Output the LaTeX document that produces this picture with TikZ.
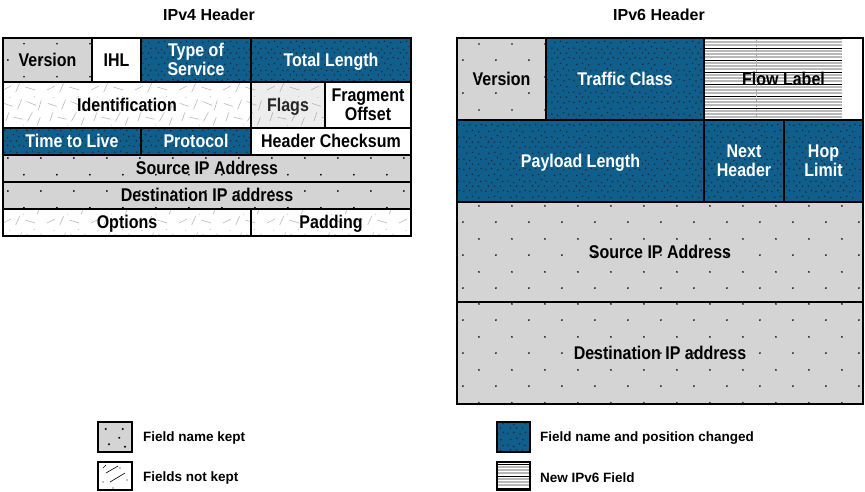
\documentclass[tikz,border=0pt]{standalone}
\usepackage{fontspec}
\setmainfont{Liberation Sans}
\usepackage{graphicx}
\usetikzlibrary{patterns}
\definecolor{ipblue}{RGB}{16,94,140}
\definecolor{ipgray}{RGB}{212,212,212}

\newcommand\lbl[1]{\raisebox{-2.3pt}[\height][\depth]{\scalebox{1}[1.15]{\begin{tabular}{@{}c@{}}#1\end{tabular}}}}

\pgfdeclarepatternformonly{keptdots}{\pgfqpoint{0pt}{0pt}}{\pgfqpoint{32.5pt}{32.5pt}}{\pgfqpoint{32.5pt}{32.5pt}}{%
  \pgfpathcircle{\pgfqpoint{8pt}{8pt}}{0.95pt}%
  \pgfpathcircle{\pgfqpoint{24.25pt}{24.25pt}}{0.95pt}%
  \pgfusepath{fill}}

\pgfdeclarepatternformonly{bluedots}{\pgfqpoint{0pt}{0pt}}{\pgfqpoint{22pt}{22pt}}{\pgfqpoint{22pt}{22pt}}{%
  \pgfpathcircle{\pgfqpoint{2pt}{3pt}}{0.85pt}%
  \pgfpathcircle{\pgfqpoint{8pt}{1.5pt}}{0.85pt}%
  \pgfpathcircle{\pgfqpoint{14pt}{4.5pt}}{0.85pt}%
  \pgfpathcircle{\pgfqpoint{19.5pt}{2.5pt}}{0.85pt}%
  \pgfpathcircle{\pgfqpoint{5pt}{9pt}}{0.85pt}%
  \pgfpathcircle{\pgfqpoint{11pt}{10pt}}{0.85pt}%
  \pgfpathcircle{\pgfqpoint{17.5pt}{8.5pt}}{0.85pt}%
  \pgfpathcircle{\pgfqpoint{2pt}{15pt}}{0.85pt}%
  \pgfpathcircle{\pgfqpoint{8pt}{16pt}}{0.85pt}%
  \pgfpathcircle{\pgfqpoint{14.5pt}{14.5pt}}{0.85pt}%
  \pgfpathcircle{\pgfqpoint{20pt}{16pt}}{0.85pt}%
  \pgfpathcircle{\pgfqpoint{11pt}{20.5pt}}{0.85pt}%
  \pgfpathcircle{\pgfqpoint{4.5pt}{20.8pt}}{0.85pt}%
  \pgfpathcircle{\pgfqpoint{17pt}{20.5pt}}{0.85pt}%
  \pgfusepath{fill}}

\pgfdeclarepatternformonly{strokes}{\pgfqpoint{0pt}{0pt}}{\pgfqpoint{44pt}{44pt}}{\pgfqpoint{44pt}{44pt}}{%
  \pgfsetlinewidth{0.6pt}%
  \pgfpathmoveto{\pgfqpoint{3pt}{5pt}}\pgfpathlineto{\pgfqpoint{11pt}{9pt}}%
  \pgfpathmoveto{\pgfqpoint{16pt}{3pt}}\pgfpathlineto{\pgfqpoint{20pt}{12pt}}%
  \pgfpathmoveto{\pgfqpoint{26pt}{8pt}}\pgfpathlineto{\pgfqpoint{36pt}{5pt}}%
  \pgfpathmoveto{\pgfqpoint{38pt}{14pt}}\pgfpathlineto{\pgfqpoint{41pt}{22pt}}%
  \pgfpathmoveto{\pgfqpoint{6pt}{18pt}}\pgfpathlineto{\pgfqpoint{9pt}{27pt}}%
  \pgfpathmoveto{\pgfqpoint{14pt}{22pt}}\pgfpathlineto{\pgfqpoint{23pt}{20pt}}%
  \pgfpathmoveto{\pgfqpoint{28pt}{18pt}}\pgfpathlineto{\pgfqpoint{33pt}{27pt}}%
  \pgfpathmoveto{\pgfqpoint{4pt}{36pt}}\pgfpathlineto{\pgfqpoint{13pt}{33pt}}%
  \pgfpathmoveto{\pgfqpoint{18pt}{30pt}}\pgfpathlineto{\pgfqpoint{22pt}{40pt}}%
  \pgfpathmoveto{\pgfqpoint{27pt}{38pt}}\pgfpathlineto{\pgfqpoint{37pt}{34pt}}%
  \pgfpathmoveto{\pgfqpoint{39pt}{29pt}}\pgfpathlineto{\pgfqpoint{42pt}{39pt}}%
  \pgfusepath{stroke}%
  \pgfpathcircle{\pgfqpoint{24pt}{14pt}}{0.5pt}%
  \pgfpathcircle{\pgfqpoint{10pt}{42pt}}{0.5pt}%
  \pgfpathcircle{\pgfqpoint{35pt}{43pt}}{0.5pt}%
  \pgfusepath{fill}}

\newcommand\cell[7]{%
  \node[#6, minimum width={(#4)-(#2)}, minimum height={(#5)-(#3)}] (#1)
    at ({((#2)+(#4))/2},{((#3)+(#5))/2}) {#7};}

\tikzset{
  cellbase/.style={rectangle, draw=black, line width=1.8pt, inner sep=0pt, outer sep=0pt,
    font=\fontsize{16}{17}\selectfont\bfseries},
  keptc/.style={cellbase, preaction={fill=ipgray}, pattern=keptdots, pattern color=black},
  bluec/.style={cellbase, preaction={fill=ipblue}, pattern=bluedots, pattern color=black!85, text=white},
  notkeptc/.style={cellbase, preaction={fill=white}, pattern=strokes, pattern color=gray!55},
  flagsc/.style={cellbase, preaction={fill=gray!14}, pattern=strokes, pattern color=gray!60, text=black!85},
  plainc/.style={cellbase, fill=white},
  hlines/.style={path picture={
      \foreach \k in {-16,...,16} {
        \pgfmathtruncatemacro\m{mod(\k+64,4)}
        \ifnum\m=0
          \draw[black, line width=0.8pt] (-100,{3*\k}) -- (100,{3*\k});
        \else
          \draw[gray!55, line width=1.2pt] (-100,{3*\k}) -- (100,{3*\k});
        \fi
      }
    }},
  flowc/.style={cellbase, fill=white, hlines, postaction={path picture={
      \draw[gray!70, line width=0.4pt, dash pattern=on 3pt off 2pt] (14.5,-45) -- (14.5,45);}}},
  titlec/.style={font=\fontsize{16}{18}\selectfont\bfseries},
  legbox/.style={rectangle, draw=black, line width=1.8pt, inner sep=0pt, outer sep=0pt},
  legtext/.style={anchor=west, inner sep=0pt, font=\fontsize{13.5}{16}\selectfont\bfseries},
}

\begin{document}
\begin{tikzpicture}[x=1pt, y=-1pt]
\useasboundingbox (0,0) rectangle (865,491);

% titles
\node[titlec] (t4) at (209,15) {IPv4 Header};
\node[titlec] (t6) at (659,15) {IPv6 Header};

% IPv4 header
\cell{v4ver}{3}{38}{92}{82}{keptc}{\lbl{Version}}
\cell{v4ihl}{92}{38}{141}{82}{plainc}{\lbl{IHL}}
\cell{v4tos}{141}{38}{251}{82}{bluec}{\lbl{Type of\\Service}}
\cell{v4len}{251}{38}{411}{82}{bluec}{\lbl{Total Length}}
\cell{v4id}{3}{82}{251}{128}{notkeptc}{\lbl{Identification}}
\cell{v4flg}{251}{82}{325}{128}{flagsc}{\lbl{Flags}}
\cell{v4frag}{325}{82}{411}{128}{plainc}{\lbl{Fragment\\Offset}}
\cell{v4ttl}{3}{128}{141}{155}{bluec}{\lbl{Time to Live}}
\cell{v4prot}{141}{128}{251}{155}{bluec}{\lbl{Protocol}}
\cell{v4chk}{251}{128}{411}{155}{plainc}{\lbl{Header Checksum}}
\cell{v4src}{3}{155}{411}{182}{keptc}{\lbl{Source IP Address}}
\cell{v4dst}{3}{182}{411}{209}{keptc}{\lbl{Destination IP address}}
\cell{v4opt}{3}{209}{251}{236}{notkeptc}{\lbl{Options}}
\cell{v4pad}{251}{209}{411}{236}{notkeptc}{\lbl{Padding}}

% IPv6 header
\cell{v6ver}{457}{38}{546}{120}{keptc}{\lbl{Version}}
\cell{v6tc}{546}{38}{704}{120}{bluec}{\lbl{Traffic Class}}
\cell{v6flow}{704}{38}{863}{120}{flowc}{\lbl{Flow Label}}
\cell{v6pl}{457}{120}{704}{202}{bluec}{\lbl{Payload Length}}
\cell{v6nh}{704}{120}{784}{202}{bluec}{\lbl{Next\\Header}}
\cell{v6hop}{784}{120}{863}{202}{bluec}{\lbl{Hop\\Limit}}
\cell{v6src}{457}{202}{863}{302}{keptc}{\lbl{Source IP Address}}
\cell{v6dst}{457}{302}{863}{404}{keptc}{\lbl{Destination IP address}}

% legend
\node[legbox, fill=ipgray, minimum width=34, minimum height=30, path picture={
    \foreach \p in {(-9.3,-8),(7.7,-8),(4.3,0.7),(-6,7.3),(10,9.7)}
      \fill[black] \p circle (1.1);
  }] (lg1) at (115,437) {};
\node[legtext] (lt1) at (143,438) {Field name kept};

\node[legbox, fill=white, minimum width=34, minimum height=28, path picture={
    \draw[black, line width=0.6pt] (-9,-3) -- (3,-10);
    \draw[black, line width=0.6pt] (-5,6) -- (10,-3);
    \draw[black, line width=0.6pt] (-12,-8) -- (-9,-11);
    \fill[black] (5,-8) circle (0.7);
    \fill[black] (-12,6) circle (0.7);
    \fill[black] (12,4) circle (0.7);
    \fill[black] (-2,12) circle (0.7);
  }] (lg2) at (115,476) {};
\node[legtext] (lt2) at (143,478) {Fields not kept};

\node[legbox, preaction={fill=ipblue}, pattern=bluedots, pattern color=black!85,
  minimum width=33, minimum height=30] (lg3) at (513.5,437) {};
\node[legtext] (lt3) at (540,438) {Field name and position changed};

\node[legbox, fill=white, minimum width=33, minimum height=28, hlines] (lg4) at (513.5,476) {};
\node[legtext] (lt4) at (540,478) {New IPv6 Field};
\end{tikzpicture}
\end{document}
